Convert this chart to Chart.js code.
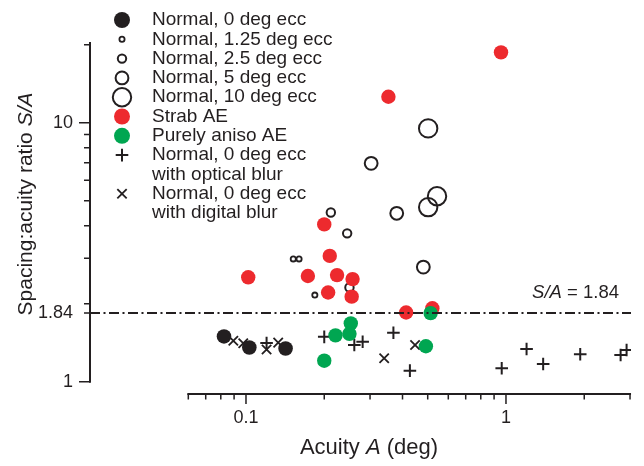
<!DOCTYPE html>
<html>
<head>
<meta charset="utf-8">
<script src="https://cdn.jsdelivr.net/npm/chart.js@4.4.1/dist/chart.umd.min.js"></script>
<style>
  html, body { margin: 0; padding: 0; background: #fff; }
  #wrap { width: 644px; height: 466px; position: relative; }
</style>
</head>
<body>
<div id="wrap"><canvas id="ratioChart"></canvas></div>
<script>
// acuity A (deg) and spacing:acuity ratio S/A, one pair of arrays per group
const normal0Acuity = [0.0823, 0.103, 0.142];
const normal0Ratio = [1.495, 1.355, 1.343];

const ecc125Acuity = [0.152, 0.160, 0.184];
const ecc125Ratio = [2.98, 2.98, 2.16];

const ecc25Acuity = [0.212, 0.245, 0.250];
const ecc25Ratio = [4.50, 3.74, 2.31];

const ecc5Acuity = [0.303, 0.380, 0.481];
const ecc5Ratio = [6.97, 4.47, 2.77];

const ecc10Acuity = [0.502, 0.502, 0.543];
const ecc10Ratio = [9.51, 4.72, 5.20];

const strabAcuity = [0.200, 0.210, 0.173, 0.224, 0.257, 0.207, 0.255, 0.102, 0.413, 0.521, 0.957, 0.353];
const strabRatio = [4.05, 3.06, 2.56, 2.58, 2.49, 2.21, 2.13, 2.53, 1.85, 1.92, 18.7, 12.6];

const anisoAcuity = [0.221, 0.253, 0.250, 0.200, 0.513, 0.492];
const anisoRatio = [1.51, 1.68, 1.53, 1.205, 1.84, 1.37];

const opticalAcuity = [0.120, 0.200, 0.261, 0.281, 0.369, 0.427, 0.963, 1.20, 1.39, 1.93, 2.76, 2.91];
const opticalRatio = [1.41, 1.49, 1.386, 1.427, 1.546, 1.103, 1.127, 1.337, 1.170, 1.276, 1.268, 1.326];

const digitalAcuity = [0.0894, 0.0976, 0.120, 0.133, 0.340, 0.447];
const digitalRatio = [1.44, 1.407, 1.331, 1.415, 1.231, 1.386];

const critRatio = 1.84;

// axis ranges and ticks
const xRange = [0.02512, 3.026];
const yRange = [0.8963, 20.5];
const xAxisSpan = [0.06, 3];
const yAxisSpan = [1, 20.5];
const xTickValues = [0.1, 1];
const yTickValues = [1, 1.84, 10];
const xMinorValues = [0.06, 0.07, 0.08, 0.09, 0.2, 0.3, 0.4, 0.5, 0.6, 0.7, 0.8, 0.9, 2, 3];
const yMinorValues = [1.84, 2, 3, 4, 5, 6, 7, 8, 9, 20];

const ink = '#231F20';
const red = '#ED2A2E';
const green = '#00A651';
const fontFamily = "'Liberation Sans', Arial, Helvetica, sans-serif";

function pairs(xs, ys) {
  return xs.map((v, i) => ({x: v, y: ys[i]}));
}

function group(label, xs, ys, style) {
  return Object.assign({
    label: label,
    data: pairs(xs, ys),
    pointStyle: 'circle',
    borderColor: ink,
    backgroundColor: 'rgba(0,0,0,0)',
    borderWidth: 2,
  }, style);
}

const datasets = [
  group(['Normal, 0 deg ecc'], normal0Acuity, normal0Ratio,
    {backgroundColor: ink, borderWidth: 0, pointRadius: 7.3, order: 3}),
  group(['Normal, 1.25 deg ecc'], ecc125Acuity, ecc125Ratio,
    {pointRadius: 2.6, borderWidth: 1.8, order: 4}),
  group(['Normal, 2.5 deg ecc'], ecc25Acuity, ecc25Ratio,
    {pointRadius: 4.2, order: 4}),
  group(['Normal, 5 deg ecc'], ecc5Acuity, ecc5Ratio,
    {pointRadius: 6.4, order: 4}),
  group(['Normal, 10 deg ecc'], ecc10Acuity, ecc10Ratio,
    {pointRadius: 9.2, order: 4}),
  group(['Strab AE'], strabAcuity, strabRatio,
    {backgroundColor: red, borderWidth: 0, pointRadius: 7.2, order: 2}),
  group(['Purely aniso AE'], anisoAcuity, anisoRatio,
    {backgroundColor: green, borderWidth: 0, pointRadius: 7.2, order: 1}),
  group(['Normal, 0 deg ecc', 'with optical blur'], opticalAcuity, opticalRatio,
    {pointStyle: 'cross', pointRadius: 6.3, order: 5}),
  group(['Normal, 0 deg ecc', 'with digital blur'], digitalAcuity, digitalRatio,
    {pointStyle: 'crossRot', pointRadius: 6.6, borderWidth: 1.8, order: 6}),
];

// criterion line S/A = 1.84
const critLine = {
  label: 'criterion',
  data: [{x: xRange[0], y: critRatio}, {x: xRange[1], y: critRatio}],
  showLine: true,
  pointRadius: 0,
  borderColor: ink,
  borderWidth: 2,
  borderDash: [10, 3.5, 2, 3.5],
  order: 0,
  isCriterion: true,
};

function drawMixed(ctx, parts, x, y, align) {
  // parts: [[text, italic, font], ...]
  const widths = parts.map(p => {
    ctx.font = p[2];
    return ctx.measureText(p[0]).width;
  });
  const total = widths.reduce((a, b) => a + b, 0);
  let cx = align === 'center' ? x - total / 2 : (align === 'right' ? x - total : x);
  ctx.textAlign = 'left';
  parts.forEach((p, i) => {
    ctx.font = p[2];
    ctx.fillText(p[0], cx, y);
    cx += widths[i];
  });
}

const decorations = {
  id: 'decorations',
  beforeDatasetsDraw(chart) {
    const {ctx, chartArea} = chart;
    const xs = chart.scales.x;
    const ys = chart.scales.y;
    const axisY = chartArea.bottom;
    const axisX = chartArea.left;
    ctx.save();
    ctx.strokeStyle = ink;
    ctx.lineWidth = 2;
    ctx.lineCap = 'butt';

    // x axis: line plus major/minor ticks pointing down
    ctx.beginPath();
    ctx.moveTo(xs.getPixelForValue(xAxisSpan[0]) - 1, axisY);
    ctx.lineTo(xs.getPixelForValue(xAxisSpan[1]) + 1, axisY);
    ctx.stroke();
    ctx.lineWidth = 1.5;
    ctx.beginPath();
    xTickValues.forEach(v => {
      const px = xs.getPixelForValue(v);
      ctx.moveTo(px, axisY);
      ctx.lineTo(px, axisY + 10);
    });
    xMinorValues.forEach(v => {
      const px = xs.getPixelForValue(v);
      ctx.moveTo(px, axisY);
      ctx.lineTo(px, axisY + 5.5);
    });
    ctx.stroke();

    // y axis: line plus ticks pointing left
    ctx.lineWidth = 2;
    ctx.beginPath();
    ctx.moveTo(axisX, ys.getPixelForValue(yAxisSpan[0]) + 1);
    ctx.lineTo(axisX, ys.getPixelForValue(yAxisSpan[1]));
    ctx.stroke();
    ctx.lineWidth = 1.5;
    ctx.beginPath();
    [1, 10].forEach(v => {
      const py = ys.getPixelForValue(v);
      ctx.moveTo(axisX, py);
      ctx.lineTo(axisX - 11, py);
    });
    yMinorValues.forEach(v => {
      const py = ys.getPixelForValue(v);
      ctx.moveTo(axisX, py);
      ctx.lineTo(axisX - 6, py);
    });
    ctx.stroke();
    ctx.restore();
  },
  afterDraw(chart) {
    const {ctx, chartArea} = chart;
    const ys = chart.scales.y;
    ctx.save();
    ctx.fillStyle = ink;
    ctx.textBaseline = 'middle';

    // axis titles
    const reg = '22px ' + fontFamily;
    const ita = 'italic 22px ' + fontFamily;
    drawMixed(ctx, [['Acuity ', 0, reg], ['A', 1, ita], [' (deg)', 0, reg]], 369, 448, 'center');

    ctx.save();
    ctx.translate(26, 204);
    ctx.rotate(-Math.PI / 2);
    const regY = '21px ' + fontFamily;
    const itaY = 'italic 21px ' + fontFamily;
    drawMixed(ctx, [['Spacing:acuity ratio ', 0, regY], ['S/A', 1, itaY]], 0, 0, 'center');
    ctx.restore();

    // criterion label
    const regS = '18.5px ' + fontFamily;
    const itaS = 'italic 18.5px ' + fontFamily;
    drawMixed(ctx, [['S/A', 1, itaS], [' = 1.84', 0, regS]],
      chartArea.right - 12, ys.getPixelForValue(critRatio) - 20, 'right');

    // legend
    const markX = 122;
    const textX = 152;
    const rowH = 19.3;
    let rowY = 20;
    ctx.font = '19px ' + fontFamily;
    ctx.textAlign = 'left';
    chart.data.datasets.forEach(ds => {
      if (ds.isCriterion) return;
      ctx.save();
      ctx.fillStyle = ds.backgroundColor;
      ctx.strokeStyle = ds.borderColor;
      ctx.lineWidth = ds.borderWidth;
      Chart.helpers.drawPoint(ctx, {
        pointStyle: ds.pointStyle,
        rotation: 0,
        radius: ds.pointStyle === 'circle' && ds.borderWidth === 0 ? 8 : ds.pointRadius,
        borderWidth: ds.borderWidth,
      }, markX, rowY);
      ctx.restore();
      ds.label.forEach((line, i) => {
        ctx.fillText(line, textX, rowY + i * rowH);
      });
      rowY += rowH * ds.label.length;
    });
    ctx.restore();
  },
};

Chart.defaults.font.family = fontFamily;
Chart.defaults.font.size = 18;
Chart.defaults.color = ink;

new Chart(document.getElementById('ratioChart'), {
  type: 'scatter',
  data: {datasets: datasets.concat([critLine])},
  options: {
    responsive: true,
    maintainAspectRatio: false,
    animation: false,
    events: [],
    layout: {padding: {left: 0, top: 42, right: 13, bottom: 0}},
    plugins: {
      legend: {display: false},
      tooltip: {enabled: false},
    },
    scales: {
      x: {
        type: 'logarithmic',
        min: xRange[0],
        max: xRange[1],
        grid: {display: false, drawTicks: false},
        border: {display: false},
        afterBuildTicks: scale => { scale.ticks = xTickValues.map(v => ({value: v})); },
        afterFit: scale => { scale.height = 72; },
        ticks: {
          autoSkip: false,
          maxRotation: 0,
          padding: 13,
          callback: v => String(v),
        },
      },
      y: {
        type: 'logarithmic',
        min: yRange[0],
        max: yRange[1],
        grid: {display: false, drawTicks: false},
        border: {display: false},
        afterBuildTicks: scale => { scale.ticks = yTickValues.map(v => ({value: v})); },
        afterFit: scale => { scale.width = 90; },
        ticks: {
          autoSkip: false,
          padding: 17,
          callback: v => String(v),
        },
      },
    },
  },
  plugins: [decorations],
});
</script>
</body>
</html>
